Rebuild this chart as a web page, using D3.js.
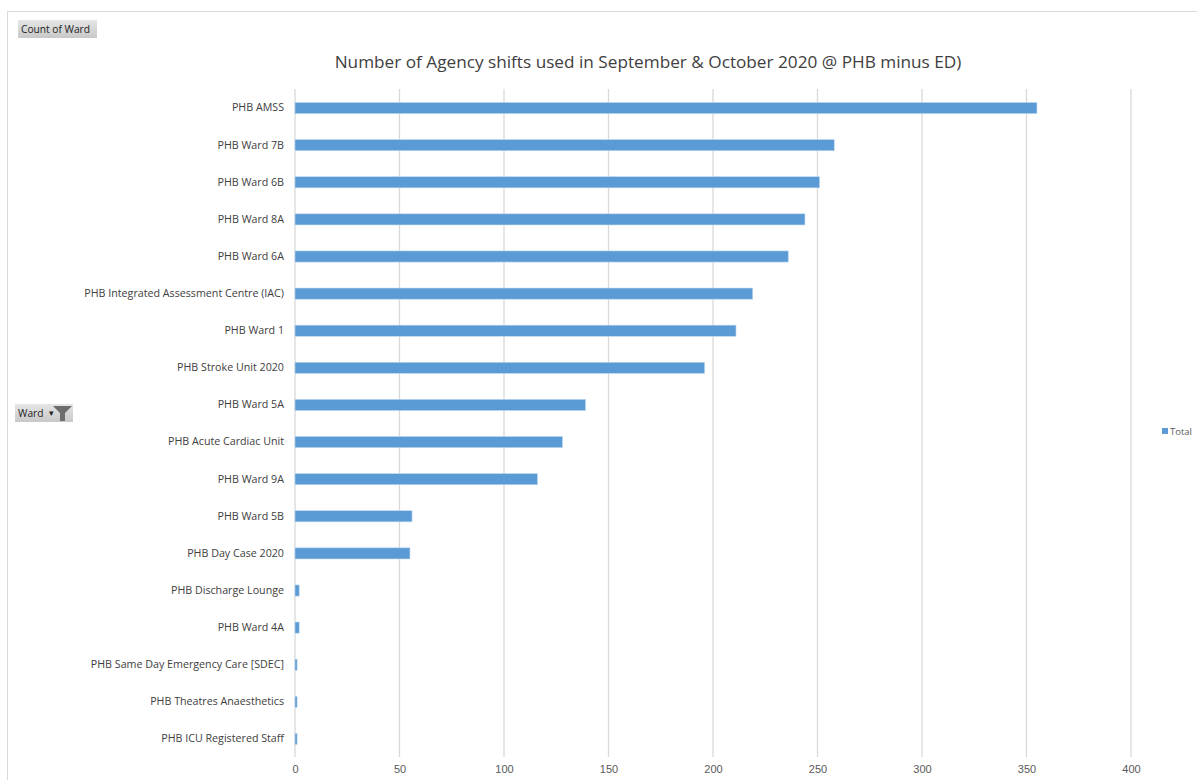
<!DOCTYPE html>
<html>
<head>
<meta charset="utf-8">
<script src="https://cdn.jsdelivr.net/npm/d3@7"></script>
<style>
  body { margin: 0; background: #fff; }
  svg { font-family: "Liberation Sans", "DejaVu Sans", sans-serif; }
</style>
</head>
<body>
<svg id="chart" width="1197" height="780"></svg>
<script>
const wards = [
  'PHB AMSS', 'PHB Ward 7B', 'PHB Ward 6B', 'PHB Ward 8A', 'PHB Ward 6A',
  'PHB Integrated Assessment Centre (IAC)', 'PHB Ward 1', 'PHB Stroke Unit 2020',
  'PHB Ward 5A', 'PHB Acute Cardiac Unit', 'PHB Ward 9A', 'PHB Ward 5B',
  'PHB Day Case 2020', 'PHB Discharge Lounge', 'PHB Ward 4A',
  'PHB Same Day Emergency Care [SDEC]', 'PHB Theatres Anaesthetics', 'PHB ICU Registered Staff'
]
const totals = [355, 258, 251, 244, 236, 219, 211, 196, 139, 128, 116, 56, 55, 2, 2, 1, 1, 1]
const xTicks = [0, 50, 100, 150, 200, 250, 300, 350, 400]
const title = 'Number of Agency shifts used in September & October 2020 @ PHB minus ED)'

const svg = d3.select('#chart')
const barColor = '#5b9bd5'

// chart frame
svg.append('path')
  .attr('d', 'M7.5,790 V11.5 H1197')
  .attr('fill', 'none')
  .attr('stroke', '#d9d9d9')

const x = d3.scaleLinear().domain([0, 400]).range([295, 1131])
const y = d3.scaleBand().domain(wards).range([89.5, 757.5]).paddingInner(0.7).paddingOuter(0.35)

// gridlines
svg.append('g')
  .selectAll('line')
  .data(xTicks)
  .join('line')
  .attr('x1', d => x(d)).attr('x2', d => x(d))
  .attr('y1', 89).attr('y2', 757)
  .attr('stroke', '#d9d9d9')
  .attr('stroke-width', 1.3)

// x axis labels
const xAxis = d3.axisBottom(x).tickValues(xTicks).tickSize(0).tickPadding(0)
svg.append('g')
  .attr('transform', 'translate(0,765)')
  .call(xAxis)
  .call(g => g.select('.domain').remove())
  .call(g => g.selectAll('text').attr('fill', '#595959').attr('font-size', 11)
    .attr('font-family', '"Liberation Sans Narrow", "Liberation Sans", sans-serif'))

// y axis labels
const yAxis = d3.axisLeft(y).tickSize(0).tickPadding(11)
svg.append('g')
  .attr('transform', 'translate(295,0)')
  .call(yAxis)
  .call(g => g.select('.domain').remove())
  .call(g => g.selectAll('text').attr('fill', '#404040')
    .attr('font-family', '"Open Sans", sans-serif').attr('font-size', 10.7))

// bars
svg.append('g')
  .selectAll('rect')
  .data(wards)
  .join('rect')
  .attr('x', x(0))
  .attr('y', d => y(d))
  .attr('width', (d, i) => x(totals[i]) - x(0))
  .attr('height', y.bandwidth())
  .attr('fill', barColor)
  .attr('stroke', '#bdd7ee')
  .attr('stroke-width', 0.6)

// title
svg.append('text')
  .attr('x', 648).attr('y', 68)
  .attr('text-anchor', 'middle')
  .attr('font-family', '"Open Sans", sans-serif')
  .attr('font-size', 17.2)
  .attr('fill', '#404040')
  .text(title)

// legend
svg.append('rect').attr('x', 1162).attr('y', 428).attr('width', 6).attr('height', 6).attr('fill', barColor)
svg.append('text').attr('x', 1170).attr('y', 435)
  .attr('font-family', '"Open Sans", sans-serif').attr('font-size', 9.5).attr('fill', '#595959')
  .text('Total')

// pivot field buttons
const grad = svg.append('defs').append('linearGradient').attr('id', 'btn').attr('x1', 0).attr('y1', 0).attr('x2', 0).attr('y2', 1)
grad.append('stop').attr('offset', 0).attr('stop-color', '#e6e6e6')
grad.append('stop').attr('offset', 1).attr('stop-color', '#c8c8c8')

svg.append('rect').attr('x', 18).attr('y', 20).attr('width', 79).attr('height', 18).attr('fill', 'url(#btn)')
svg.append('text').attr('x', 21).attr('y', 33)
  .attr('font-family', '"Open Sans", sans-serif').attr('font-size', 10.2).attr('fill', '#222')
  .text('Count of Ward')

svg.append('rect').attr('x', 15).attr('y', 404).attr('width', 58).attr('height', 18).attr('fill', 'url(#btn)')
svg.append('text').attr('x', 18).attr('y', 417)
  .attr('font-family', '"Open Sans", sans-serif').attr('font-size', 10.2).attr('fill', '#222')
  .text('Ward')
svg.append('text').attr('x', 49).attr('y', 416)
  .attr('font-family', '"Open Sans", sans-serif').attr('font-size', 9).attr('fill', '#222')
  .text('▾')
svg.append('path')
  .attr('d', 'M53,406 H72 L65,413 V421 H60 V413 Z')
  .attr('fill', '#6d6d6d')
</script>
</body>
</html>
